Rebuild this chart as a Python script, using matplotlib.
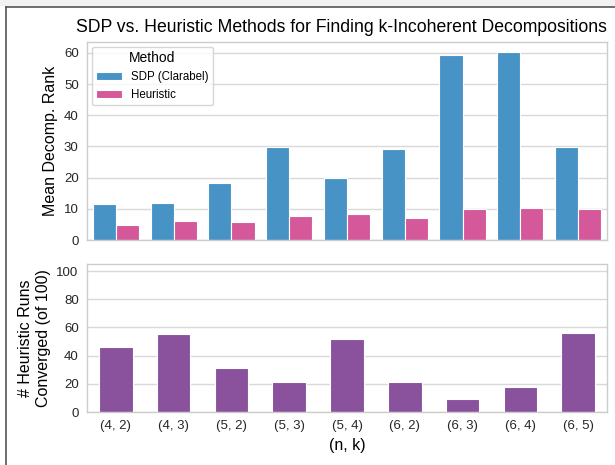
import matplotlib
matplotlib.use("Agg")
import matplotlib.pyplot as plt
import numpy as np
from matplotlib.lines import Line2D

plt.rcParams['font.family'] = ['Liberation Sans', 'DejaVu Sans']

# data
cases = ["(4, 2)", "(4, 3)", "(5, 2)", "(5, 3)", "(5, 4)", "(6, 2)", "(6, 3)", "(6, 4)", "(6, 5)"]
sdp_rank = [11.5, 11.8, 18.2, 29.8, 19.8, 29.2, 59.2, 60.3, 29.9]
heur_rank = [4.8, 6.0, 5.9, 7.8, 8.4, 7.0, 10.1, 10.2, 10.1]
converged = [46, 55, 31, 21, 52, 21, 9, 18, 56]

blue = "#4893c6"
pink = "#d5589a"
purple = "#8a519d"
grid_c = "#d9d9d9"
spine_c = "#cccccc"

fig = plt.figure(figsize=(6.15, 4.65), dpi=100)
ax1 = fig.add_axes([87/615, 1-240/465, 520/615, 198/465])
ax2 = fig.add_axes([87/615, 1-412/465, 520/615, 148/465])

x = np.arange(len(cases))
w = 0.4
ax1.bar(x - w/2, sdp_rank, w, color=blue, edgecolor="white", linewidth=0.8, label="SDP (Clarabel)", zorder=2)
ax1.bar(x + w/2, heur_rank, w, color=pink, edgecolor="white", linewidth=0.8, label="Heuristic", zorder=2)
ax1.set_ylim(0, 63.5)
ax1.set_xlim(-0.5, len(cases) - 0.5)
ax1.set_yticks(range(0, 61, 10))
ax1.set_xticks(x)
ax1.set_xticklabels([])
ax1.set_ylabel("Mean Decomp. Rank", fontsize=11.5)
ax1.set_title("SDP vs. Heuristic Methods for Finding k-Incoherent Decompositions", fontsize=12.7, pad=7, x=0.49)
leg = ax1.legend(title="Method", loc="upper left", fontsize=8.3, title_fontsize=10,
                 frameon=True, edgecolor=spine_c, fancybox=True, labelspacing=0.5,
                 handlelength=2.2, borderaxespad=0.4)

ax2.bar(x, converged, 0.58, color=purple, edgecolor="white", linewidth=0.8, zorder=2)
ax2.set_ylim(0, 105)
ax2.set_xlim(-0.5, len(cases) - 0.5)
ax2.set_yticks(range(0, 101, 20))
ax2.set_xticks(x)
ax2.set_xticklabels(cases)
ax2.set_xlabel("(n, k)", fontsize=11.5)
ax2.set_ylabel("# Heuristic Runs\nConverged (of 100)", fontsize=11.5)

for ax in (ax1, ax2):
    ax.grid(axis="y", color=grid_c, linewidth=1.0, zorder=0)
    ax.set_axisbelow(True)
    for s in ax.spines.values():
        s.set_color(spine_c)
        s.set_linewidth(1.0)
    ax.tick_params(length=0, labelsize=9.5, colors="#262626", pad=6)

# outer frame visible in the reference crop
fig.patches.append(plt.Rectangle((0, 1-5/465), 1, 5/465, transform=fig.transFigure,
                                 color="#f2f2f2", zorder=-1))
fig.add_artist(Line2D([6/615, 6/615], [0, 1-7/465], transform=fig.transFigure, color="#555555", lw=1.2))
fig.add_artist(Line2D([6/615, 1], [1-7/465, 1-7/465], transform=fig.transFigure, color="#555555", lw=1.2))

fig.savefig("out.png", dpi=100)
